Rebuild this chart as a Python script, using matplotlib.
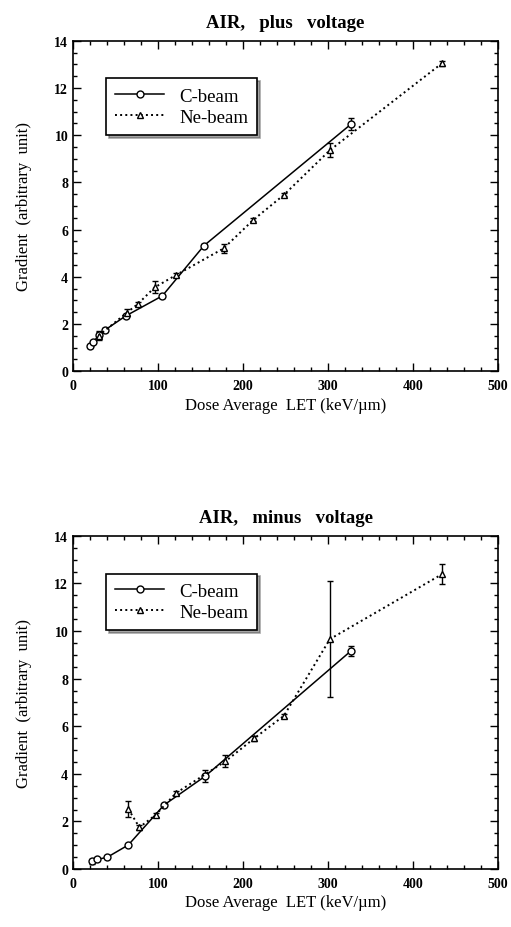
import matplotlib
matplotlib.use("Agg")
import matplotlib.pyplot as plt
from matplotlib.ticker import MultipleLocator
from matplotlib.lines import Line2D

plt.rcParams['font.family'] = ['Liberation Serif', 'DejaVu Serif']

# AIR, plus voltage
c_plus_x = [20, 24, 30, 37, 62, 105, 154, 327]
c_plus_y = [1.05, 1.23, 1.52, 1.73, 2.34, 3.19, 5.32, 10.47]
c_plus_err = [0.05, 0.05, 0.12, 0.08, 0.1, 0.08, 0.08, 0.25]
ne_plus_x = [30, 63, 76, 96, 121, 177, 212, 248, 302, 434]
ne_plus_y = [1.5, 2.47, 2.84, 3.55, 4.07, 5.2, 6.41, 7.47, 9.36, 13.05]
ne_plus_err = [0.2, 0.15, 0.1, 0.25, 0.08, 0.2, 0.06, 0.06, 0.3, 0.1]

# AIR, minus voltage
c_minus_x = [22, 28, 40, 65, 107, 155, 327]
c_minus_y = [0.32, 0.4, 0.49, 1.01, 2.69, 3.89, 9.17]
c_minus_err = [0.1, 0.05, 0.05, 0.05, 0.06, 0.25, 0.2]
ne_minus_x = [65, 78, 97, 121, 179, 213, 248, 302, 434]
ne_minus_y = [2.52, 1.75, 2.27, 3.19, 4.52, 5.49, 6.44, 9.66, 12.39]
ne_minus_err = [0.35, 0.1, 0.08, 0.08, 0.25, 0.1, 0.08, 2.45, 0.43]

panels = [
    ("AIR,   plus   voltage", [0.143, 0.599, 0.832, 0.356],
     c_plus_x, c_plus_y, c_plus_err, ne_plus_x, ne_plus_y, ne_plus_err),
    ("AIR,   minus   voltage", [0.143, 0.0625, 0.832, 0.359],
     c_minus_x, c_minus_y, c_minus_err, ne_minus_x, ne_minus_y, ne_minus_err),
]

fig = plt.figure(figsize=(5.11, 9.28), dpi=100)

for title, rect, cx, cy, ce, nx, ny, ne in panels:
    ax = fig.add_axes(rect)
    ax.errorbar(cx, cy, yerr=ce, color='black', linestyle='-', linewidth=1.1,
                marker='o', markersize=5, markerfacecolor='white',
                markeredgewidth=1.0, capsize=2.5, elinewidth=1.0)
    ax.errorbar(nx, ny, yerr=ne, color='black', linestyle=':', linewidth=1.4,
                marker='^', markersize=4, markerfacecolor='white',
                markeredgewidth=1.0, capsize=2.5, elinewidth=1.0)
    ax.set_xlim(0, 500)
    ax.set_ylim(0, 14)
    ax.xaxis.set_major_locator(MultipleLocator(100))
    ax.xaxis.set_minor_locator(MultipleLocator(20))
    ax.yaxis.set_major_locator(MultipleLocator(2))
    ax.yaxis.set_minor_locator(MultipleLocator(0.5))
    ax.tick_params(which='both', direction='in', top=True, right=True,
                   width=1.0, labelsize=10)
    ax.tick_params(which='major', length=6)
    ax.tick_params(which='minor', length=3)
    ax.tick_params(axis='x', pad=6)
    for lab in ax.get_xticklabels() + ax.get_yticklabels():
        lab.set_fontweight('bold')
    for s in ax.spines.values():
        s.set_linewidth(1.2)
    ax.set_title(title, fontsize=13.5, fontweight='bold', pad=10)
    ax.set_xlabel('Dose Average  LET (keV/\u00b5m)', fontsize=12, labelpad=3)
    ax.set_ylabel('Gradient  (arbitrary  unit)', fontsize=12, labelpad=16)
    handles = [
        Line2D([], [], color='black', linestyle='-', linewidth=1.1, marker='o',
               markersize=5, markerfacecolor='white'),
        Line2D([], [], color='black', linestyle=':', linewidth=1.4, marker='^',
               markersize=4, markerfacecolor='white'),
    ]
    leg = ax.legend(handles, ['C-beam', 'Ne-beam'], loc='upper left',
                    bbox_to_anchor=(0.055, 0.915), fontsize=13.5,
                    frameon=True, fancybox=False, shadow=True,
                    edgecolor='black', handlelength=2.6, borderpad=0.5,
                    labelspacing=0.2)
    leg.get_frame().set_linewidth(1.2)

fig.savefig('out.png', dpi=100)
